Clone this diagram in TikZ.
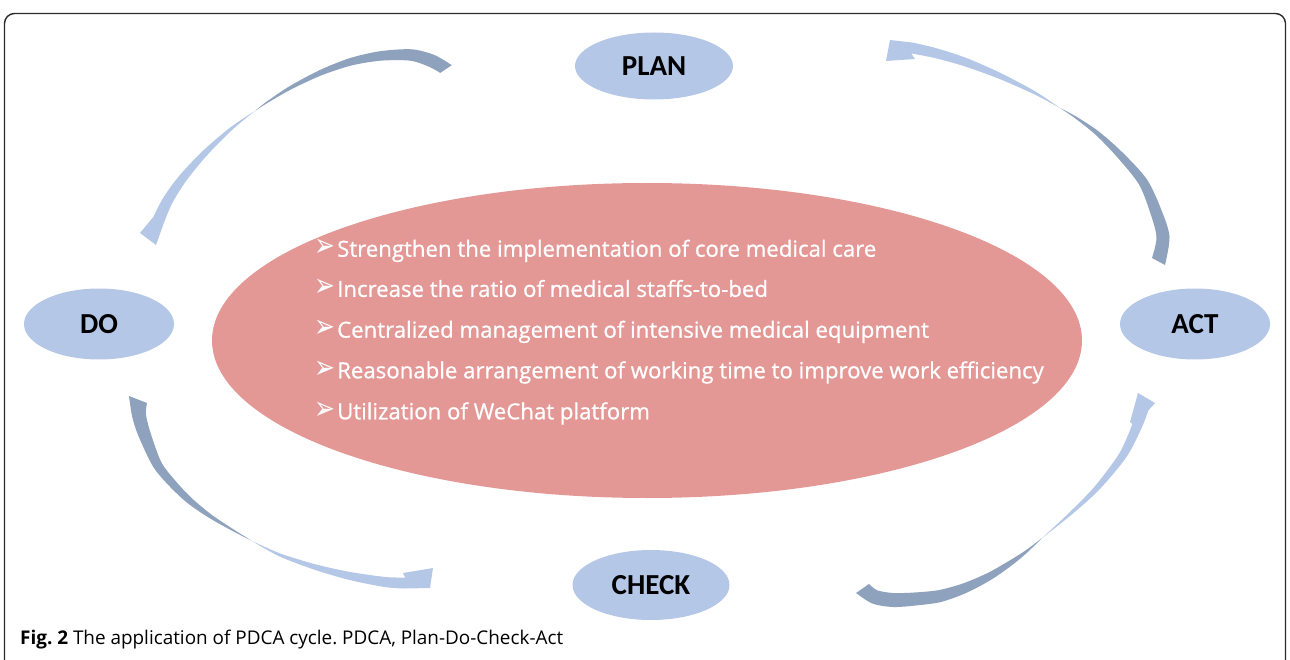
\documentclass[tikz,border=0pt]{standalone}
\usepackage{fontspec}
\usetikzlibrary{shapes.geometric}
\setmainfont{Open Sans}
\newfontfamily\itemfont[FakeBold=0.8]{Open Sans}
\newfontfamily\lblfont{Carlito}
\newfontfamily\symfont{DejaVu Sans}
\frenchspacing
\definecolor{pinkfill}{HTML}{E49896}
\definecolor{bluefill}{HTML}{B4C7E7}
\definecolor{arrowdark}{HTML}{8FA2BD}
\definecolor{framegray}{HTML}{2B2B2B}
\tikzset{
  stage/.style={ellipse, fill=bluefill, inner sep=0pt,
    font=\lblfont\bfseries\fontsize{29}{29}\selectfont, text=black},
  core/.style={ellipse, fill=pinkfill, inner sep=0pt, minimum width=870pt, minimum height=315pt},
  item/.style={anchor=base west, inner sep=0pt, text=white, font=\itemfont\fontsize{22.2}{22.2}\selectfont},
  tailpart/.style={fill=arrowdark},
  headpart/.style={fill=bluefill},
}
% list marker: an outlined arrowhead, 19pt from the text start
\newcommand{\bul}{\makebox[19pt][l]{\hspace*{-3.6pt}\scalebox{1}[1.3]{\symfont\fontsize{25}{25}\selectfont ➢}}}
\begin{document}
\begin{tikzpicture}[x=1pt,y=-1pt]
\useasboundingbox (0,0) rectangle (1290,660);
% panel frame
\draw[framegray, line width=1.4pt, rounded corners=10pt] (4.5,13.5) rectangle (1285.5,720);

% central ellipse with the measures
\node[core] (core) at (647,340.5) {};
\node[item] (m1) at (318,256.7) {\bul Strengthen the implementation of core medical care};
\node[item] (m2) at (318,296.9) {\bul Increase the ratio of medical staffs-to-bed};
\node[item] (m3) at (318,337.7) {\bul Centralized management of intensive medical equipment};
\node[item] (m4) at (318,378.3) {\bul Reasonable arrangement of working time to improve work efficiency};
\node[item] (m5) at (318,419.3) {\bul Utilization of WeChat platform};

% the four stages
\node[stage, minimum width=158pt, minimum height=67pt] (plan)  at (654,66)  {PLAN};
\node[stage, minimum width=150pt, minimum height=71pt] (do)    at (99,324)  {DO};
\node[stage, minimum width=150pt, minimum height=71pt] (act)   at (1195,324) {ACT};
\node[stage, minimum width=157pt, minimum height=70pt] (check) at (651,585) {CHECK};

% PLAN -> DO : dark tail tapering to a point, light shaft widening to the head
\fill[tailpart] plot[smooth] coordinates {(451.8,65.2) (434.4,55.0) (411.6,49.3) (379.5,51.3) (349.0,58.4) (318.9,70.5) (289.1,86.5) (265.6,102.4) (255,111)}
  -- plot[smooth] coordinates {(255,111) (266.4,103.6) (290.9,89.5) (321.1,75.5) (351.0,65.6) (380.5,60.7) (410.4,60.7) (429.6,67.0) (440.2,72.9)} -- cycle;
\fill[headpart] plot[smooth] coordinates {(255,111) (231.0,126.9) (202.8,150.9) (179.6,175.4) (163.5,197.3) (153.4,216.9)}
  -- (140,233) -- (156,245) -- (166,217)
  -- plot[smooth] coordinates {(164.6,221.1) (172.5,202.7) (186.4,180.6) (207.2,155.1) (233.0,129.1) (255,111)} -- cycle;

% ACT -> PLAN
\fill[tailpart] plot[smooth] coordinates {(1165,265) (1169.5,236.7) (1161.4,210.0) (1147.0,179.5) (1122.6,152.6) (1098.5,131.3) (1075.6,116.2) (1060,108)}
  -- plot[smooth] coordinates {(1060,108) (1074.4,117.8) (1095.5,134.7) (1117.4,157.4) (1139.0,184.5) (1150.6,214.0) (1156.5,237.3) (1152,258)} -- cycle;
\fill[headpart] plot[smooth] coordinates {(1060,108) (1035.7,91.7) (1001.2,73.3) (966.4,58.0) (936.3,48.2) (912.9,42.6)}
  -- (890,40) -- (886,61) -- (915,59)
  -- plot[smooth] coordinates {(911.1,53.4) (933.7,57.8) (963.6,66.0) (998.8,78.7) (1034.3,94.3) (1060,108)} -- cycle;

% DO -> CHECK
\fill[tailpart] plot[smooth] coordinates {(129,396) (132.1,416.2) (138.1,435.2) (152.9,466.3) (169.0,485.7) (187.4,503.0) (208.9,517.7) (230.5,529.9) (252,541)}
  -- plot[smooth] coordinates {(252,541) (231.5,528.1) (211.1,514.3) (191.6,498.0) (175.0,480.3) (161.1,461.7) (149.9,430.8) (145.9,413.8) (147,403)} -- cycle;
\fill[headpart] plot[smooth] coordinates {(252,541) (279.4,556.4) (314.2,569.6) (349.2,579.9) (384.4,587.0) (404.8,588.5)}
  -- (430,588) -- (433,568) -- (403,573)
  -- plot[smooth] coordinates {(405.2,577.5) (385.6,577.0) (350.8,572.1) (315.8,564.4) (280.6,553.6) (252,541)} -- cycle;

% CHECK -> ACT
\fill[tailpart] plot[smooth] coordinates {(856,593) (872.5,603.6) (892.7,607.0) (915.6,605.5) (941.3,601.9) (966.9,592.6) (991.8,579.3) (1013.4,564.1) (1027.8,552.0) (1042,538)}
  -- plot[smooth] coordinates {(1042,538) (1026.2,550.0) (1010.6,559.9) (988.2,572.7) (963.1,583.4) (938.7,590.1) (914.4,592.5) (893.3,593.0) (877.5,590.4) (869,584)} -- cycle;
\fill[headpart] plot[smooth] coordinates {(1042,538) (1071.0,515.1) (1099.1,489.8) (1126.4,457.1) (1141.6,428.0) (1148.2,410.7)}
  -- (1155,403) -- (1138,393) -- (1130,422)
  -- plot[smooth] coordinates {(1132.4,424.0) (1119.6,452.9) (1094.9,486.2) (1069.0,512.9) (1042,538)} -- cycle;

% caption
\node[anchor=base west, inner sep=0pt, font=\fontsize{18.9}{18.9}\selectfont] (caption) at (20,644)
  {\textbf{Fig. 2} The application of PDCA cycle. PDCA, Plan-Do-Check-Act};
\end{tikzpicture}
\end{document}
